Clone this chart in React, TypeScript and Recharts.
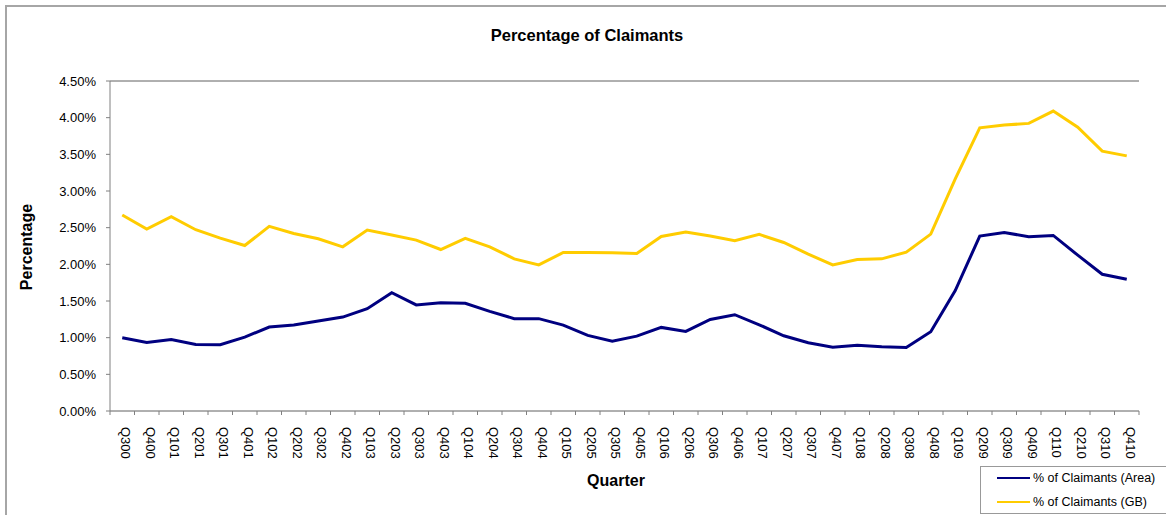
import { LineChart, Line, XAxis, YAxis, CartesianGrid, ReferenceLine } from "recharts";

const quarters = [
  "Q300", "Q400", "Q101", "Q201", "Q301", "Q401", "Q102", "Q202", "Q302", "Q402",
  "Q103", "Q203", "Q303", "Q403", "Q104", "Q204", "Q304", "Q404", "Q105", "Q205",
  "Q305", "Q405", "Q106", "Q206", "Q306", "Q406", "Q107", "Q207", "Q307", "Q407",
  "Q108", "Q208", "Q308", "Q408", "Q109", "Q209", "Q309", "Q409", "Q110", "Q210",
  "Q310", "Q410",
];

// % of claimants, local area
const areaPct = [
  1.0, 0.935, 0.975, 0.907, 0.903, 1.008, 1.145, 1.172, 1.227, 1.281,
  1.395, 1.614, 1.446, 1.477, 1.468, 1.359, 1.259, 1.259, 1.172, 1.031,
  0.953, 1.021, 1.14, 1.085, 1.249, 1.313, 1.176, 1.026, 0.93, 0.871,
  0.898, 0.876, 0.866, 1.081, 1.642, 2.385, 2.435, 2.376, 2.394, 2.125,
  1.865, 1.796,
];

// % of claimants, GB
const gbPct = [
  2.672, 2.481, 2.649, 2.472, 2.357, 2.257, 2.517, 2.421, 2.348, 2.239,
  2.467, 2.4, 2.33, 2.202, 2.353, 2.239, 2.075, 1.993, 2.161, 2.161,
  2.157, 2.148, 2.38, 2.44, 2.385, 2.321, 2.408, 2.298, 2.139, 1.993,
  2.066, 2.075, 2.166, 2.412, 3.165, 3.862, 3.899, 3.922, 4.09, 3.871,
  3.543, 3.479,
];

const yTicks = [0, 0.5, 1, 1.5, 2, 2.5, 3, 3.5, 4, 4.5];

const series = [
  { key: "area", name: "% of Claimants (Area)", color: "#000080" },
  { key: "gb", name: "% of Claimants (GB)", color: "#FFCC00" },
];

const data = quarters.map((q, i) => ({ quarter: q, area: areaPct[i], gb: gbPct[i] }));

const FONT = "Arial, 'Liberation Sans', sans-serif";
const AXIS = "#808080";
const HALF_BAND = 12.25;

function QuarterTick(props: any) {
  const { x, y, payload, index } = props;
  return (
    <g>
      {index === 0 && (
        <line x1={x - HALF_BAND} x2={x - HALF_BAND} y1={y} y2={y + 4} stroke={AXIS} />
      )}
      <line x1={x + HALF_BAND} x2={x + HALF_BAND} y1={y} y2={y + 4} stroke={AXIS} />
      <text
        transform={`translate(${x - 1},${y + 16}) rotate(90)`}
        fontSize={13}
        fontFamily={FONT}
        fill="#000"
      >
        {payload.value}
      </text>
    </g>
  );
}

export default function App() {
  return (
    <div
      style={{
        position: "absolute",
        left: 0,
        top: 0,
        width: 1166,
        height: 515,
        overflow: "hidden",
        background: "#fff",
        fontFamily: FONT,
      }}
    >
      <div
        style={{
          position: "absolute",
          left: 5,
          top: 5,
          width: 1200,
          height: 560,
          border: "2px solid #a6a6a6",
        }}
      />
      <LineChart
        width={1166}
        height={515}
        data={data}
        margin={{ top: 81, right: 27, bottom: 0, left: 0 }}
        style={{ position: "absolute", left: 0, top: 0 }}
      >
        <CartesianGrid vertical={false} stroke="#c0c0c0" strokeWidth={1} />
        <XAxis
          dataKey="quarter"
          height={104}
          interval={0}
          padding={{ left: HALF_BAND, right: HALF_BAND }}
          tickLine={false}
          tickSize={0}
          tickMargin={0}
          axisLine={{ stroke: AXIS }}
          tick={<QuarterTick />}
        />
        <YAxis
          yAxisId="left"
          width={110}
          domain={[0, 4.5]}
          ticks={yTicks}
          interval={0}
          tickSize={4}
          tickMargin={10}
          axisLine={{ stroke: AXIS }}
          tickLine={{ stroke: AXIS }}
          tick={{ fontSize: 13, fill: "#000", fontFamily: FONT }}
          tickFormatter={(v: number) => `${v.toFixed(2)}%`}
        />
        <YAxis
          yAxisId="right"
          orientation="right"
          width={0}
          domain={[0, 4.5]}
          tick={false}
          tickLine={false}
          axisLine={{ stroke: AXIS }}
        />
        <ReferenceLine yAxisId="left" y={4.5} stroke={AXIS} />
        {series.map((s) => (
          <Line
            key={s.key}
            yAxisId="left"
            type="linear"
            dataKey={s.key}
            name={s.name}
            stroke={s.color}
            strokeWidth={3}
            dot={false}
            activeDot={false}
            isAnimationActive={false}
          />
        ))}
      </LineChart>

      <div
        style={{
          position: "absolute",
          left: 587,
          top: 35,
          transform: "translate(-50%, -50%)",
          fontSize: 16.5,
          fontWeight: "bold",
          whiteSpace: "nowrap",
          lineHeight: 1,
        }}
      >
        Percentage of Claimants
      </div>
      <div
        style={{
          position: "absolute",
          left: 27,
          top: 247,
          transform: "translate(-50%, -50%) rotate(-90deg)",
          fontSize: 16,
          fontWeight: "bold",
          whiteSpace: "nowrap",
          lineHeight: 1,
        }}
      >
        Percentage
      </div>
      <div
        style={{
          position: "absolute",
          left: 616,
          top: 481,
          transform: "translate(-50%, -50%)",
          fontSize: 16,
          fontWeight: "bold",
          whiteSpace: "nowrap",
          lineHeight: 1,
        }}
      >
        Quarter
      </div>

      <div
        style={{
          position: "absolute",
          left: 980,
          top: 466,
          width: 220,
          height: 46,
          border: "1px solid #999",
          background: "#fff",
        }}
      >
        {series.map((s, i) => (
          <div
            key={s.key}
            style={{
              position: "absolute",
              left: 16,
              top: 3 + i * 24,
              height: 16,
              display: "flex",
              alignItems: "center",
              whiteSpace: "nowrap",
              fontSize: 12.5,
            }}
          >
            <span style={{ display: "inline-block", width: 33, height: 2, background: s.color, marginRight: 3 }} />
            {s.name}
          </div>
        ))}
      </div>
    </div>
  );
}
